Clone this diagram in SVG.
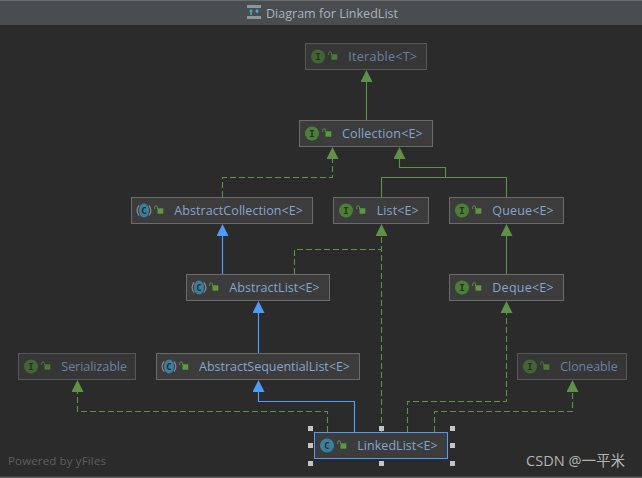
<svg xmlns="http://www.w3.org/2000/svg" width="642" height="478" viewBox="0 0 642 478">
<style>
.box{fill:#3c3c3c;stroke:#6b6b6b;stroke-width:1}
.lbl{font-family:"Open Sans","Noto Sans","Liberation Sans",sans-serif;font-size:12.5px;fill:#84a6cf}
.ic{font-family:"DejaVu Sans Mono","Liberation Mono",monospace;font-size:9px;font-weight:bold;fill:#2b2b2b;text-anchor:middle}
.faded{opacity:.7}
.g{fill:none;stroke:#5f9148;stroke-width:1.1}
.gd{fill:none;stroke:#5f9148;stroke-width:1.1;stroke-dasharray:6 3}
.b{fill:none;stroke:#4f9bf5;stroke-width:1.2}
.h{fill:#c4c4c4}
</style>
<defs>
<marker id="ag" markerUnits="userSpaceOnUse" markerWidth="12" markerHeight="12" refX="0" refY="6" orient="auto"><path d="M0 0L12 6L0 12Z" fill="#5f9148"/></marker>
<marker id="ab" markerUnits="userSpaceOnUse" markerWidth="12" markerHeight="12" refX="0" refY="6" orient="auto"><path d="M0 0L12 6L0 12Z" fill="#4f9bf5"/></marker>
<g id="lock"><path d="M-2.800 0V-1.800A1.400 1.400 0 0 1 0 -1.800V0" fill="none" stroke="#5b9a3e" stroke-width="0.9"/><rect x="0" y="-0.700" width="5.800" height="5.400" fill="#5b9a3e"/></g>
<g id="ci"><circle r="7" fill="#4b7f34"/></g>
<g id="cc"><path d="M-4.800 -5A7 7 0 0 0 -4.800 5M4.800 -5A7 7 0 0 1 4.800 5" fill="none" stroke="#8a8a8a" stroke-width="1.300"/><ellipse rx="5" ry="7" fill="#3a7f9f"/></g>
</defs>
<rect width="642" height="478" fill="#2b2b2b"/>
<g id="titlebar">
<rect width="642" height="25" fill="#4a4d50"/>
<rect width="642" height="1" fill="#6a6a6a"/>
<rect y="476.500" width="642" height="1.500" fill="#5a5a5a"/>
<rect x="247" y="5" width="14" height="3" fill="#8c979c"/>
<rect x="247" y="16" width="14" height="3" fill="#8c979c"/>
<path d="M251 9l2 2.500h-1.300v3.500h-1.400v-3.500H249ZM257 9l2 2.500h-1.300v1.500h-1.400v-1.500H255Z" fill="#3fb4e8"/>
<text x="266" y="18" font-family="'Open Sans','Noto Sans',sans-serif" font-size="12.500" fill="#aab4bb" textLength="132">Diagram for LinkedList</text>
</g>
<g id="connectors">
<path class="g" d="M366.500 120V82" marker-end="url(#ag)"/>
<path class="gd" d="M222.500 197V177.500H332.500V159" marker-end="url(#ag)"/>
<path class="g" d="M381.500 197V177.500H506.500V197"/>
<path class="g" d="M445.500 177.500V167.500H399.500V159" marker-end="url(#ag)"/>
<path class="gd" d="M381.500 432V236" marker-end="url(#ag)"/>
<path class="gd" d="M294.500 274V249.500H381.500"/>
<path class="g" d="M506.500 274V236" marker-end="url(#ag)"/>
<path class="b" d="M222.500 274V236" marker-end="url(#ab)"/>
<path class="b" d="M258.500 353V313" marker-end="url(#ab)"/>
<path class="b" d="M354.500 432V401.500H258.500V392" marker-end="url(#ab)"/>
<path class="gd" d="M327.500 432V411.500H77.500V392" marker-end="url(#ag)"/>
<path class="gd" d="M407.500 432V401.500H506.500V313" marker-end="url(#ag)"/>
<path class="gd" d="M434.500 432V411.500H572.500V392" marker-end="url(#ag)"/>
</g>
<g id="iterable" class="faded">
<rect class="box" x="305.500" y="43.500" width="121" height="26"/>
<use href="#ci" x="318" y="56.500"/><text class="ic" x="318" y="59.500">I</text>
<use href="#lock" x="331.500" y="55"/>
<text class="lbl" x="348.300" y="61" textLength="68.700">Iterable&lt;T&gt;</text>
</g>
<g id="collection">
<rect class="box" x="299.500" y="120.500" width="133" height="26"/>
<use href="#ci" x="312" y="133.500"/><text class="ic" x="312" y="136.500">I</text>
<use href="#lock" x="325.500" y="132"/>
<text class="lbl" x="342" y="138" textLength="80.700">Collection&lt;E&gt;</text>
</g>
<g id="abstractcollection">
<rect class="box" x="131.500" y="197.500" width="181" height="26"/>
<use href="#cc" x="144" y="210.500"/><text class="ic" x="144" y="213.500">C</text>
<use href="#lock" x="157.500" y="209"/>
<text class="lbl" x="174.300" y="215" textLength="128.700">AbstractCollection&lt;E&gt;</text>
</g>
<g id="list">
<rect class="box" x="333.500" y="197.500" width="95" height="26"/>
<use href="#ci" x="346" y="210.500"/><text class="ic" x="346" y="213.500">I</text>
<use href="#lock" x="359.500" y="209"/>
<text class="lbl" x="376.700" y="215" textLength="42">List&lt;E&gt;</text>
</g>
<g id="queue">
<rect class="box" x="449.500" y="197.500" width="114" height="26"/>
<use href="#ci" x="462" y="210.500"/><text class="ic" x="462" y="213.500">I</text>
<use href="#lock" x="475.500" y="209"/>
<text class="lbl" x="492.300" y="215" textLength="61.400">Queue&lt;E&gt;</text>
</g>
<g id="abstractlist">
<rect class="box" x="186.500" y="274.500" width="143" height="26"/>
<use href="#cc" x="199" y="287.500"/><text class="ic" x="199" y="290.500">C</text>
<use href="#lock" x="212.500" y="286"/>
<text class="lbl" x="229.300" y="292" textLength="90.400">AbstractList&lt;E&gt;</text>
</g>
<g id="deque">
<rect class="box" x="449.500" y="274.500" width="114" height="26"/>
<use href="#ci" x="462" y="287.500"/><text class="ic" x="462" y="290.500">I</text>
<use href="#lock" x="475.500" y="286"/>
<text class="lbl" x="492.300" y="292" textLength="61.400">Deque&lt;E&gt;</text>
</g>
<g id="serializable" class="faded">
<rect class="box" x="18.500" y="353.500" width="117" height="26"/>
<use href="#ci" x="31" y="366.500"/><text class="ic" x="31" y="369.500">I</text>
<use href="#lock" x="44.500" y="365"/>
<text class="lbl" x="61.300" y="371" textLength="65.700">Serializable</text>
</g>
<g id="abstractsequentiallist">
<rect class="box" x="156.500" y="353.500" width="203" height="26"/>
<use href="#cc" x="169" y="366.500"/><text class="ic" x="169" y="369.500">C</text>
<use href="#lock" x="182.500" y="365"/>
<text class="lbl" x="199" y="371" textLength="151">AbstractSequentialList&lt;E&gt;</text>
</g>
<g id="cloneable" class="faded">
<rect class="box" x="517.500" y="353.500" width="109" height="26"/>
<use href="#ci" x="530" y="366.500"/><text class="ic" x="530" y="369.500">I</text>
<use href="#lock" x="543.500" y="365"/>
<text class="lbl" x="560.300" y="371" textLength="57.400">Cloneable</text>
</g>
<g id="linkedlist">
<rect class="box" x="314.500" y="432.500" width="133" height="26" style="stroke:#4f9bf5"/>
<circle cx="327" cy="445.500" r="7" fill="#3a7f9f"/><text class="ic" x="327" y="448.500">C</text>
<use href="#lock" x="340.500" y="444"/>
<text class="lbl" x="357.300" y="450" textLength="80.400">LinkedList&lt;E&gt;</text>
<rect class="h" x="308" y="426" width="5" height="5"/><rect class="h" x="379" y="426" width="5" height="5"/><rect class="h" x="450" y="426" width="5" height="5"/>
<rect class="h" x="308" y="443" width="5" height="5"/><rect class="h" x="450" y="443" width="5" height="5"/>
<rect class="h" x="308" y="461" width="5" height="5"/><rect class="h" x="379" y="461" width="5" height="5"/><rect class="h" x="450" y="461" width="5" height="5"/>
</g>
<text id="powered" x="8" y="465" font-family="'Open Sans','Noto Sans',sans-serif" font-size="11.500" fill="#5f5f5f" textLength="98">Powered by yFiles</text>
<text id="watermark" x="526" y="466" font-family="'Open Sans','Noto Sans CJK SC',sans-serif" font-size="14.500" fill="#b4b4b4" textLength="99">CSDN @一平米</text>
</svg>
